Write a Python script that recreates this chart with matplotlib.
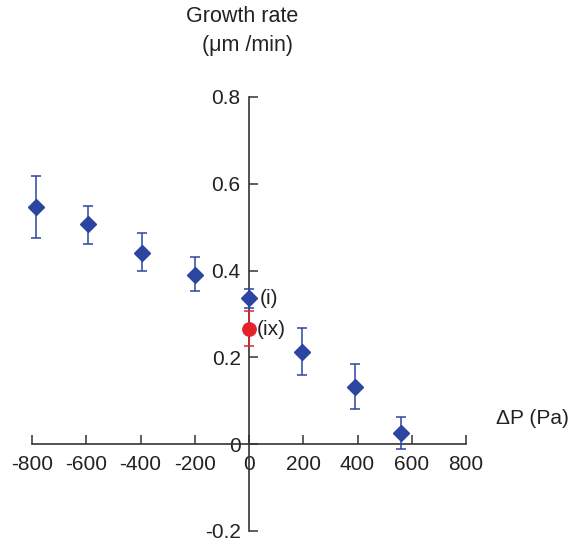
import matplotlib
matplotlib.use("Agg")
import matplotlib.pyplot as plt

plt.rcParams['font.family'] = ['Liberation Sans', 'DejaVu Sans']

# data
dp = [-786, -592, -396, -199, 0, 194, 392, 559]
rate = [0.547, 0.507, 0.441, 0.391, 0.336, 0.213, 0.132, 0.026]
err_hi = [0.619, 0.548, 0.487, 0.431, 0.358, 0.267, 0.184, 0.063]
err_lo = [0.475, 0.461, 0.400, 0.352, 0.314, 0.160, 0.080, -0.012]

red_x = [0]
red_y = [0.265]
red_hi = [0.307]
red_lo = [0.227]

xticks = [-800, -600, -400, -200, 0, 200, 400, 600, 800]
yticks = [-0.2, 0, 0.2, 0.4, 0.6, 0.8]
ylabels = ['-0.2', '0', '0.2', '0.4', '0.6', '0.8']

blue = '#2c45a0'
red = '#e3222b'
txt = '#222222'

fig = plt.figure(figsize=(5.7, 5.48), dpi=100)
ax = fig.add_axes([32/570, (548-531)/548, 434/570, 434/548])
ax.set_xlim(-800, 800)
ax.set_ylim(-0.2, 0.8)

yerr = [[r - l for r, l in zip(rate, err_lo)], [h - r for r, h in zip(rate, err_hi)]]
eb = ax.errorbar(dp, rate, yerr=yerr, fmt='D', color=blue, ms=8.5, mec=blue,
                 ecolor=blue, elinewidth=1.1, capsize=3.5, capthick=1.1, zorder=3)
ryerr = [[r - l for r, l in zip(red_y, red_lo)], [h - r for r, h in zip(red_y, red_hi)]]
eb2 = ax.errorbar(red_x, red_y, yerr=ryerr, fmt='o', color=red, ms=9.6, mec=red,
                  ecolor=red, elinewidth=1.1, capsize=3.5, capthick=1.1, zorder=4)
for e in (eb, eb2):
    for child in e.get_children():
        child.set_clip_on(False)

for s in ['top', 'right']:
    ax.spines[s].set_visible(False)
ax.spines['left'].set_position(('data', 0))
ax.spines['bottom'].set_position(('data', 0))
for s in ['left', 'bottom']:
    ax.spines[s].set_color('#333333')
    ax.spines[s].set_linewidth(1.2)

ax.set_xticks(xticks)
ax.set_xticklabels([str(t) for t in xticks])
ax.set_yticks(yticks)
ax.set_yticklabels(ylabels)
ax.tick_params(axis='both', direction='in', length=6.5, width=1.1, color='#333333',
               labelsize=15, labelcolor=txt)
ax.tick_params(axis='x', pad=7.5)
ax.tick_params(axis='y', pad=6)

fig.text(242/570, 1-17/548, 'Growth rate', fontsize=15.5,
         ha='center', va='center', color=txt)
fig.text(247/570, 1-45/548, '(μm /min)', fontsize=15.5,
         ha='center', va='center', color=txt)
fig.text(532/570, 1-419/548, 'ΔP (Pa)', fontsize=15,
         ha='center', va='center', color=txt)

ax.annotate('(i)', xy=(0, 0.336), xytext=(7.5, 0), textcoords='offset points',
            fontsize=15, va='center', ha='left', color=txt)
ax.annotate('(ix)', xy=(0, 0.265), xytext=(5.5, 0), textcoords='offset points',
            fontsize=15, va='center', ha='left', color=txt)

fig.savefig('out.png', dpi=100)
